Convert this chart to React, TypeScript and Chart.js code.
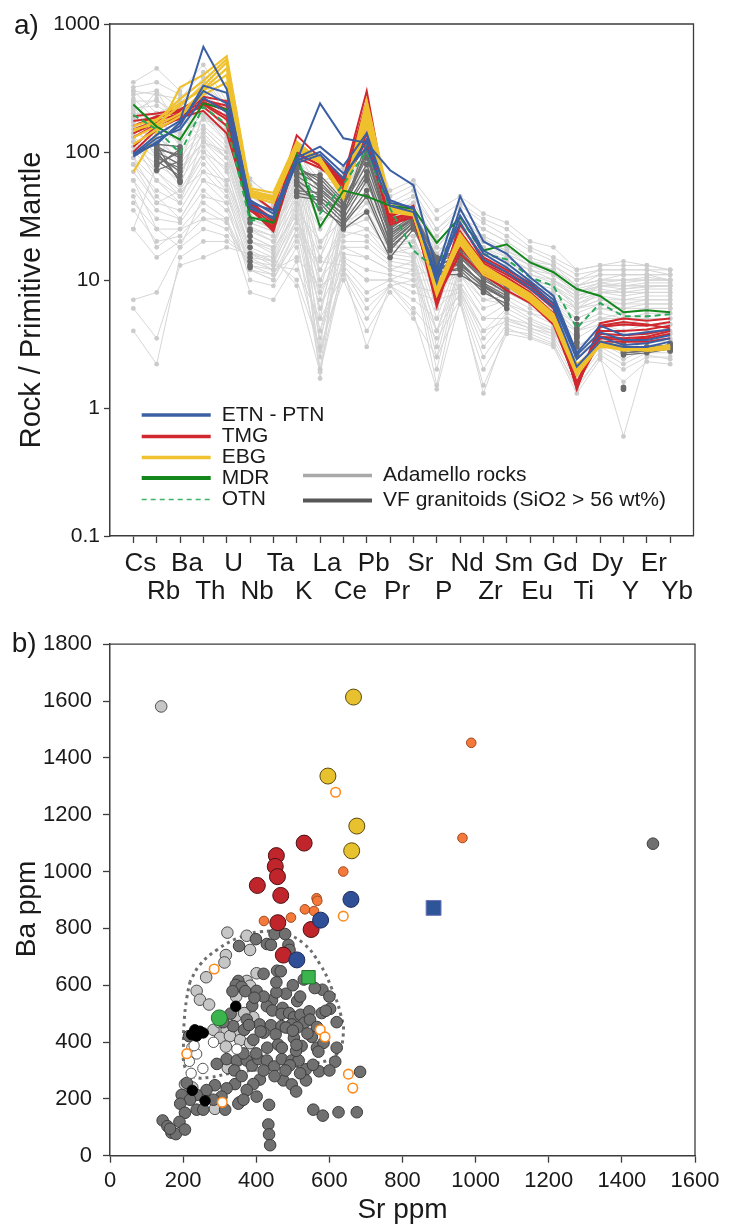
import React, { useEffect, useRef } from 'react';
import { Chart, registerables } from 'chart.js';

Chart.register(...registerables);

const FONT = "'Liberation Sans', Arial, Helvetica, sans-serif";
const INK = '#1a1a1a';
const AXIS = '#3c3c3c';

// ---------------- Panel a) : spider diagram ----------------
const elements = ['Cs', 'Rb', 'Ba', 'Th', 'U', 'Nb', 'Ta', 'K', 'La', 'Ce', 'Pb', 'Pr', 'Sr', 'P', 'Nd', 'Zr', 'Sm', 'Eu', 'Gd', 'Ti', 'Dy', 'Y', 'Er', 'Yb'];
const yTicksA = [0.1, 1, 10, 100, 1000];

const etnPtn = [
  [96, 136, 175, 665, 310, 40, 35, 85, 240, 128, 118, 72, 55, 12, 45, 20, 16, 10.5, 7.5, 2.7, 4.4, 3.7, 3.9, 4.1],
  [92, 120, 160, 330, 290, 42, 33, 90, 110, 78, 140, 40, 37, 9.5, 32, 16, 12.5, 9.2, 6.6, 2.4, 3.6, 3.1, 3.2, 3.5],
  [98, 115, 170, 300, 240, 38, 30, 82, 95, 62, 125, 42, 36, 10.5, 36, 17, 13.5, 9.8, 7, 2.6, 3.9, 3.4, 3.4, 3.7],
  [94, 128, 150, 265, 205, 36, 31, 86, 100, 68, 108, 38, 34, 11, 28, 14.5, 11.5, 8.6, 6.1, 2.1, 3.3, 3.0, 3.0, 3.3],
];
const tmg = [
  [190, 200, 215, 270, 250, 48, 35, 135, 90, 62, 300, 31, 38, 7.5, 27, 15, 12, 9.5, 6.5, 1.5, 4.6, 5.0, 4.8, 5.0],
  [175, 185, 210, 255, 230, 40, 30, 120, 85, 58, 250, 33, 35, 6.5, 24, 13.5, 11, 8.5, 6.0, 1.4, 4.3, 4.5, 4.4, 4.7],
  [150, 175, 200, 245, 210, 38, 27, 110, 82, 55, 200, 30, 34, 6.2, 22, 13, 10.5, 8.0, 5.5, 1.45, 4.0, 4.0, 4.1, 4.4],
  [130, 165, 190, 235, 180, 37, 25, 100, 78, 52, 160, 28, 32, 7, 18, 11.5, 9, 7.0, 4.8, 1.5, 3.6, 3.5, 3.6, 4.0],
  [110, 160, 195, 225, 160, 36, 24, 95, 80, 50, 140, 29, 33, 8, 21, 12, 9.5, 7.3, 5.0, 1.6, 3.5, 3.4, 3.5, 3.8],
  [100, 150, 185, 210, 140, 35, 26, 90, 75, 55, 125, 27, 31, 7.2, 16, 11, 8.3, 6.6, 4.5, 1.55, 3.3, 3.3, 3.3, 3.5],
  [160, 190, 205, 260, 215, 42, 28, 115, 88, 60, 220, 32, 36, 6.8, 28, 14, 11.5, 9, 6.2, 1.42, 4.4, 4.7, 4.5, 4.2],
  [140, 170, 180, 240, 190, 39, 29, 105, 84, 57, 180, 30, 33, 7.8, 23, 12.5, 10, 7.6, 5.2, 1.48, 3.8, 3.7, 3.8, 4.1],
];
const ebg = [
  [70, 140, 320, 400, 560, 52, 48, 120, 85, 45, 250, 40, 36, 8.5, 23, 13, 10, 7.8, 5.4, 2.0, 3.3, 3.0, 2.9, 3.0],
  [145, 175, 260, 360, 530, 50, 45, 115, 88, 48, 220, 38, 34, 8, 21, 12.5, 9.8, 7.5, 5.2, 2.1, 3.2, 2.9, 2.9, 3.0],
  [150, 165, 230, 330, 500, 48, 44, 110, 90, 47, 200, 36, 35, 8.8, 22, 12, 9.5, 7.2, 5.0, 1.9, 3.1, 3.0, 2.8, 2.9],
  [130, 160, 200, 300, 400, 46, 42, 108, 84, 46, 180, 35, 33, 7.6, 20, 11.5, 9.2, 7.0, 4.8, 2.2, 3.0, 2.9, 2.8, 2.9],
  [115, 150, 190, 280, 350, 45, 40, 104, 82, 44, 160, 34, 32, 9, 19, 11, 9, 6.8, 4.7, 1.8, 3.1, 2.8, 2.9, 3.1],
  [160, 180, 240, 310, 450, 47, 43, 112, 86, 43, 240, 37, 33, 8.2, 21.5, 12.2, 9.6, 7.3, 5.1, 2.0, 3.2, 3.0, 2.9, 3.0],
];
const mdr = [235, 158, 125, 240, 215, 31, 28, 95, 26, 50, 45, 38, 36, 19.5, 31, 17, 19, 13.7, 11.5, 8.5, 7.5, 5.6, 5.8, 5.6];
const otn = [195, 150, 98, 225, 165, 29, 31, 92, 33, 56, 102, 36, 17, 12, 31, 16, 14.5, 10.5, 9, 4.2, 6.6, 5.2, 5.2, 5.4];

const vfGranitoids = [
  [null, 100, 60, null, null, 14, null, 55, 40, 25, 34, 15, 25, 11, 11, 8.6, 6, null, null, 3.0, null, 2.7, 2.8, 2.9],
  [null, 90, 75, null, null, 18, null, 60, 45, 30, 60, 20, 28, 12, 14, 9, 7, null, null, 3.3, null, 1.45, null, 2.8],
  [null, 110, 90, null, null, 22, null, 65, 50, 35, 70, 22, 30, 13, 15, 10, 8, null, null, 3.6, null, 2.8, 2.9, 3.0],
  [null, 80, 100, null, null, 25, null, 70, 55, 38, 80, 24, 32, 14, 16, 11, 8.5, null, null, 4.0, null, 3.0, 3.0, 3.1],
  [null, 115, 110, null, null, 28, null, 75, 62, 40, 90, 25, 34, 15, 17, 12, 9, null, null, 4.5, null, 3.2, null, 3.2],
  [null, 72, 85, null, null, 16, null, 50, 48, 32, 110, 21, 29, 12.5, 13, 9.5, 7.5, null, null, 5.0, null, 2.6, 2.7, 2.9],
  [null, 95, 70, null, null, 13, null, 45, 42, 28, 50, 18, 26, 11.5, 12, 8, 6.5, null, null, 3.5, null, 1.4, null, 2.8],
  [null, 105, 95, null, null, 20, null, 80, 52, 36, 120, 23, 31, 12, 15, 10.5, 7.8, null, null, 3.8, null, 2.9, 2.9, 3.0],
  [null, 85, 65, null, null, 30, null, 68, 66, 42, 95, 26, 33, 14.5, 16.5, 11.5, 8.8, null, null, 4.2, null, 3.1, null, 3.1],
  [null, 78, 105, null, null, 15, null, 58, 36, 27, 45, 17, 27, 11, 12.5, 8.8, 7, null, null, 2.6, null, 2.7, 2.8, 2.9],
  [null, 100, 80, null, null, 12.5, null, 48, 44, 33, 65, 19, 28, 12, 13.5, 9.2, 7.2, null, null, 3.2, null, 2.8, null, 3.0],
  [null, 112, 58, null, null, 24, null, 77, 58, 38, 100, 23, 30, 13, 15.5, 10.8, 8.2, null, null, 3.7, null, 3.0, 3.0, 3.1],
];

const adamelloRocks = [
  [350, 450, 300, 480, 250, 60, 45, 110, 80, 70, 180, 45, 55, 30, 40, 30, 25, 18, 15, 12, 13, 14, 13, 12],
  [300, 280, 260, 420, 230, 55, 40, 100, 60, 65, 140, 40, 50, 25, 38, 28, 22, 17, 14, 11, 12, 12, 12, 11],
  [280, 300, 220, 350, 200, 50, 38, 95, 40, 60, 120, 38, 45, 22, 35, 25, 20, 15, 13, 10, 11, 11, 11, 10],
  [250, 250, 200, 300, 180, 45, 35, 90, 25, 55, 100, 35, 40, 20, 30, 22, 18, 14, 12, 9, 10, 10, 10, 10],
  [220, 230, 180, 260, 160, 40, 32, 85, 15, 50, 90, 33, 38, 18, 28, 20, 16, 13, 11, 8.5, 9.5, 9, 9.5, 9.5],
  [200, 200, 150, 230, 150, 35, 30, 80, 8, 45, 80, 30, 35, 16, 25, 18, 15, 12, 10, 8, 9, 8.5, 9, 9],
  [180, 180, 130, 200, 140, 32, 28, 75, 5, 42, 70, 28, 30, 14, 23, 16, 14, 11, 9.5, 7.5, 8.5, 8, 8.5, 8.5],
  [160, 150, 120, 180, 120, 30, 26, 70, 3, 40, 60, 26, 28, 12, 21, 15, 13, 10, 9, 7, 8, 7.5, 8, 8],
  [150, 130, 100, 160, 110, 28, 24, 65, 2, 38, 55, 24, 25, 10, 20, 14, 12, 9.5, 8.5, 6.5, 7.5, 7, 7.5, 7.5],
  [140, 120, 90, 150, 100, 26, 22, 60, 1.7, 35, 50, 22, 22, 8, 18, 13, 11, 9, 8, 6, 7, 6.5, 7, 7],
  [130, 100, 80, 140, 90, 24, 20, 55, 30, 32, 45, 20, 20, 6, 17, 12, 10, 8.5, 7.5, 5.5, 6.5, 6, 6.5, 6.5],
  [120, 90, 70, 120, 80, 22, 18, 50, 20, 30, 40, 18, 18, 5, 16, 11, 9.5, 8, 7, 5, 6, 5.5, 6, 6],
  [110, 80, 60, 110, 70, 20, 16, 45, 12, 28, 35, 17, 16, 4, 15, 10, 9, 7.5, 6.5, 4.5, 5.5, 5, 5.5, 5.5],
  [100, 70, 50, 100, 60, 18, 15, 40, 7, 25, 30, 16, 15, 3, 14, 9, 8.5, 7, 6, 4, 5, 4.5, 5, 5],
  [90, 60, 45, 90, 55, 17, 14, 38, 4, 22, 25, 15, 14, 2.5, 13, 8, 8, 6.5, 5.5, 3.5, 4.5, 4, 4.5, 4.5],
  [80, 50, 40, 80, 50, 16, 13, 35, 2.5, 20, 20, 14, 13, 2, 12, 7, 7.5, 6, 5, 3, 4, 3.5, 4, 4],
  [70, 40, 35, 70, 45, 15, 12, 30, 10, 18, 18, 13, 12, 1.5, 11, 6, 7, 5.5, 4.5, 2.8, 3.8, 3.2, 3.8, 3.8],
  [60, 35, 30, 60, 40, 14, 12, 28, 6, 16, 15, 12, 11, 12, 10, 5, 6.5, 5, 4.2, 2.5, 3.6, 3, 3.5, 3.5],
  [50, 30, 28, 50, 35, 13, 11, 25, 3.5, 15, 12, 11, 10, 10, 9, 4, 6, 4.8, 4, 2.2, 3.4, 2.8, 3.3, 3.3],
  [40, 25, 25, 40, 30, 12, 10, 22, 2, 14, 10, 10, 9, 8, 8.5, 3.5, 5.5, 4.5, 3.8, 2, 3.2, 2.6, 3.1, 3.1],
  [35, 20, 22, 35, 28, 12, 11, 20, 14, 13, 8, 10, 8, 7, 8, 3, 5, 4.2, 3.6, 1.8, 3, 2.4, 2.9, 2.9],
  [25, 15, 20, 30, 25, 13, 12, 15, 9, 12, 6, 9, 7, 5, 7.5, 2.5, 4.5, 4, 3.4, 1.6, 2.8, 2.2, 2.7, 2.7],
  [7, 8, 18, 25, 22, 14, 13, 12, 5, 11, 5, 9, 6, 3.5, 7, 2, 4, 3.8, 3.2, 1.4, 2.6, 2, 2.5, 2.5],
  [4, 2.2, 15, 20, 20, 15, 14, 10, 3, 10, 4, 8, 5, 2.5, 6.5, 1.5, 3.8, 3.5, 3, 1.3, 2.4, 1.6, 2.3, 2.2],
  [6, 3.5, 13, 15, 18, 16, 15, 9, 1.9, 12, 3, 9, 5.5, 1.4, 7, 1.3, 4.2, 3.6, 3.1, 1.5, 2.5, 0.6, 2.6, 2.4],
  [300, 200, 240, 380, 220, 62, 42, 100, 70, 75, 160, 50, 60, 35, 45, 33, 28, 20, 18, 12, 13, 13, 13, 12],
  [260, 180, 120, 300, 180, 40, 30, 60, 45, 50, 100, 32, 40, 20, 30, 25, 20, 15, 13, 9, 11, 11, 11, 11],
  [240, 140, 80, 250, 140, 30, 25, 50, 35, 40, 80, 25, 25, 15, 22, 20, 15, 12, 10, 7, 9, 9.5, 10, 10],
  [200, 110, 60, 200, 130, 25, 22, 45, 50, 45, 65, 22, 20, 11, 18, 16, 12, 10, 9, 6, 8, 8.5, 8.8, 9],
  [180, 300, 150, 330, 240, 50, 36, 85, 60, 55, 200, 35, 32, 18, 30, 22, 18, 14, 12, 9, 10, 10, 10.5, 10],
  [25, 80, 200, 120, 90, 35, 28, 110, 45, 60, 150, 30, 45, 25, 35, 20, 17, 14, 13, 10, 12, 12, 12, 12],
  [320, 350, 280, 200, 120, 20, 18, 90, 10, 25, 40, 20, 15, 4, 12, 10, 8, 7, 6, 4, 5, 5.5, 6, 6],
  [120, 60, 40, 130, 90, 20, 17, 35, 20, 30, 25, 18, 20, 8, 15, 10, 8, 7, 6, 4.5, 5, 5, 5, 5],
  [90, 45, 30, 60, 50, 12, 10, 25, 8, 18, 15, 12, 14, 9, 11, 7, 6.5, 5.5, 5, 4, 4.5, 4.5, 4.5, 4.5],
  [170, 90, 55, 150, 100, 25, 20, 40, 15, 35, 50, 22, 25, 12, 20, 14, 11, 9, 8, 6, 7, 7, 7, 7],
  [230, 120, 65, 190, 140, 30, 25, 55, 25, 42, 70, 26, 28, 15, 24, 18, 14, 11, 10, 7.5, 9, 9, 9, 9],
  [60, 25, 18, 45, 40, 10, 9, 18, 4, 14, 10, 10, 12, 6, 9, 5, 5, 4.5, 4, 3, 3.8, 3.8, 3.8, 3.8],
  [140, 200, 110, 240, 190, 45, 35, 70, 35, 50, 90, 30, 35, 16, 27, 20, 16, 13, 11, 8, 9.5, 10, 10, 10],
  [100, 150, 140, 180, 150, 35, 28, 90, 18, 45, 110, 28, 30, 20, 25, 17, 14, 12, 11, 8, 9, 9, 9, 9],
  [210, 260, 170, 280, 210, 42, 33, 65, 30, 48, 75, 30, 38, 14, 26, 21, 17, 13, 12, 9, 10, 11, 11, 11],
  [45, 18, 25, 30, 30, 8, 7, 14, 2.8, 12, 7, 9, 10, 4, 8, 4, 4.8, 4.2, 3.8, 2.6, 3.5, 3.4, 3.5, 3.4],
  [130, 70, 45, 100, 75, 16, 14, 30, 12, 25, 30, 16, 18, 9, 14, 9, 8, 7, 6.5, 5, 6, 6, 6, 6],
  [190, 110, 75, 120, 100, 28, 24, 60, 40, 40, 60, 24, 22, 7, 19, 15, 12, 10, 9, 6.5, 8, 8, 8, 8],
  [80, 40, 50, 70, 60, 22, 18, 32, 6, 24, 22, 15, 25, 18, 16, 8, 8.5, 7.5, 7, 6, 6.5, 6.5, 6.5, 6.5],
];

const legendA = [
  { label: 'ETN - PTN', color: '#3b5fa3', width: 3.5, dash: [] as number[], col: 0, row: 0 },
  { label: 'TMG', color: '#d0282e', width: 3.5, dash: [], col: 0, row: 1 },
  { label: 'EBG', color: '#f0c232', width: 3.5, dash: [], col: 0, row: 2 },
  { label: 'MDR', color: '#13871b', width: 4, dash: [], col: 0, row: 3 },
  { label: 'OTN', color: '#3cb46a', width: 1.6, dash: [5, 4], col: 0, row: 4 },
  { label: 'Adamello rocks', color: '#a9a9a9', width: 3.5, dash: [], col: 1, row: 3 },
  { label: 'VF granitoids (SiO2 > 56 wt%)', color: '#575757', width: 4, dash: [], col: 1, row: 4 },
];

// ---------------- Panel b) : Ba vs Sr ----------------
const adamelloSr = [140, 321, 374, 383, 317, 313, 401, 263, 374, 383, 237, 246, 271, 344, 392, 367, 283, 319, 354, 301, 328, 356, 383, 317, 350, 322, 205, 256, 354, 287, 225, 300, 345, 212];
const adamelloBa = [1581, 785, 774, 724, 706, 680, 642, 628, 615, 598, 580, 549, 532, 491, 487, 502, 443, 443, 432, 415, 421, 407, 396, 384, 335, 309, 251, 207, 188, 165, 240, 470, 560, 205];

const vfSr = [399, 429, 353, 440, 488, 491, 450, 479, 457, 467, 351, 344, 360, 335, 370, 401, 481, 512, 581, 443, 429, 444, 472, 469, 490, 503, 521, 545, 579, 602, 590, 389, 374, 409, 440, 469, 497, 532, 547, 566, 512, 481, 420, 453, 216, 337, 367, 392, 412, 460, 503, 524, 552, 566, 620, 584, 292, 319, 347, 374, 388, 406, 429, 449, 470, 497, 516, 536, 492, 509, 570, 616, 572, 684, 474, 497, 509, 536, 410, 392, 374, 401, 435, 342, 319, 287, 264, 237, 210, 196, 219, 192, 237, 205, 255, 315, 351, 365, 305, 283, 144, 157, 168, 180, 190, 205, 164, 433, 435, 438, 556, 582, 625, 675, 1485,
  420, 455, 395, 520, 560, 600, 620, 540, 500, 380, 330, 310, 340, 360, 420, 450, 480, 520, 555, 600, 430, 470, 510, 400, 365, 455, 500, 530, 420];
const vfBa = [762, 745, 738, 742, 742, 724, 780, 780, 651, 649, 615, 601, 594, 579, 579, 580, 570, 544, 584, 547, 526, 511, 520, 499, 502, 487, 496, 508, 502, 517, 510, 528, 479, 462, 459, 456, 462, 468, 479, 453, 451, 451, 433, 427, 421, 456, 443, 408, 437, 391, 414, 386, 418, 380, 380, 397, 323, 340, 335, 335, 317, 340, 335, 314, 340, 335, 335, 304, 318, 369, 366, 331, 297, 295, 265, 251, 226, 265, 268, 252, 231, 208, 179, 252, 237, 248, 231, 214, 256, 214, 197, 183, 162, 151, 162, 162, 183, 197, 208, 197, 124, 104, 81, 76, 119, 92, 95, 110, 75, 37, 162, 141, 153, 153, 1098,
  560, 575, 556, 560, 590, 560, 470, 430, 440, 460, 500, 470, 300, 280, 300, 280, 300, 290, 320, 300, 380, 380, 390, 360, 360, 610, 600, 620, 640];

const blackSr = [344, 232, 246, 223, 237, 255, 225, 260];
const blackBa = [526, 443, 438, 426, 421, 432, 230, 193];
const whiteSr = [283, 347, 224, 237, 217, 254, 222, 230];
const whiteBa = [399, 375, 381, 358, 332, 307, 290, 387];
const orangeOpenSr = [617, 638, 285, 575, 588, 210, 652, 664, 307];
const orangeOpenBa = [1279, 843, 657, 443, 418, 359, 287, 238, 188];
const orangeSr = [988, 964, 638, 565, 567, 533, 558, 421, 495];
const orangeBa = [1453, 1118, 1000, 906, 897, 867, 861, 826, 838];
const tmgSr = [531, 455, 452, 458, 403, 467, 459, 550, 474];
const tmgBa = [1100, 1056, 1018, 982, 951, 916, 820, 796, 706];
const ebgSr = [666, 596, 675, 661];
const ebgBa = [1614, 1336, 1160, 1073];
const etnSr = [659, 576, 511];
const etnBa = [902, 829, 689];
const mdrSr = [299];
const mdrBa = [485];
const greenSquareSr = [543];
const greenSquareBa = [628];
const blueSquareSr = [885];
const blueSquareBa = [872];
const envelopeSr = [219, 210, 203, 201, 205, 228, 274, 328, 410, 492, 565, 620, 638, 631, 606, 575, 529, 474, 410, 347, 292, 246, 219];
const envelopeBa = [613, 555, 474, 380, 311, 278, 276, 290, 303, 311, 325, 357, 427, 497, 590, 672, 747, 782, 788, 764, 724, 672, 613];

const pts = (xs: number[], ys: number[]) => xs.map((x, i) => ({ x, y: ys[i] }));
const series = (vals: (number | null)[]) => vals.map((v, i) => ({ x: i, y: v }));

function SpiderChart() {
  const ref = useRef<HTMLCanvasElement>(null);
  useEffect(() => {
    const line = (vals: (number | null)[], color: string, width: number, order: number, extra: any = {}) => ({
      data: series(vals),
      borderColor: color,
      borderWidth: width,
      pointRadius: 0,
      tension: 0,
      fill: false,
      spanGaps: false,
      order,
      ...extra,
    });
    const datasets: any[] = [];
    etnPtn.forEach((v) => datasets.push(line(v, '#3b5fa3', 2, 1)));
    datasets.push(line(otn, '#2aa85a', 2, 2, { borderDash: [6, 4] }));
    datasets.push(line(mdr, '#13871b', 2, 3));
    ebg.forEach((v) => datasets.push(line(v, '#efc12e', 2.2, 4)));
    tmg.forEach((v) => datasets.push(line(v, '#d0282e', 2, 5)));
    vfGranitoids.forEach((v) =>
      datasets.push(line(v, '#6e6e6e', 1.3, 8, { pointRadius: 2.8, pointBackgroundColor: '#6b6b6b', pointBorderWidth: 0 }))
    );
    adamelloRocks.forEach((v) =>
      datasets.push(line(v, '#d6d6d6', 1, 9, { pointRadius: 2.4, pointBackgroundColor: '#cbcbcb', pointBorderWidth: 0 }))
    );

    const decor = {
      id: 'spiderDecor',
      afterDraw(chart: any) {
        const { ctx, chartArea: a } = chart;
        ctx.save();
        ctx.strokeStyle = AXIS;
        ctx.lineWidth = 1.3;
        ctx.beginPath();
        ctx.moveTo(a.left, a.top);
        ctx.lineTo(a.right, a.top);
        ctx.lineTo(a.right, a.bottom);
        ctx.stroke();
        // legend
        const rowY = [415, 436.5, 457.5, 478, 499.5];
        const colX = [141.7, 303];
        ctx.font = `21px ${FONT}`;
        ctx.textBaseline = 'middle';
        ctx.textAlign = 'left';
        legendA.forEach((e) => {
          const y = e.col === 1 ? (e.row === 3 ? 475.5 : 500.5) : rowY[e.row];
          const x0 = colX[e.col];
          ctx.strokeStyle = e.color;
          ctx.lineWidth = e.width;
          ctx.setLineDash(e.dash);
          ctx.beginPath();
          ctx.moveTo(x0, y);
          ctx.lineTo(x0 + 69, y);
          ctx.stroke();
          ctx.setLineDash([]);
          ctx.fillStyle = INK;
          ctx.fillText(e.label, x0 + 80, y);
        });
        // panel label
        ctx.font = `28px ${FONT}`;
        ctx.textBaseline = 'alphabetic';
        ctx.fillText('a)', 14, 33.5);
        // y title
        ctx.translate(39.5, 300);
        ctx.rotate(-Math.PI / 2);
        ctx.textAlign = 'center';
        ctx.font = `29px ${FONT}`;
        ctx.fillText('Rock / Primitive Mantle', 0, 0);
        ctx.restore();
      },
    };

    const chart = new Chart(ref.current as HTMLCanvasElement, {
      type: 'line',
      data: { datasets },
      plugins: [decor],
      options: {
        responsive: false,
        animation: false,
        events: [],
        layout: { padding: { left: 0, top: 24, right: 39.5, bottom: 0 } },
        plugins: { legend: { display: false }, tooltip: { enabled: false } },
        scales: {
          x: {
            type: 'linear',
            min: -1,
            max: 24,
            afterBuildTicks: (s: any) => {
              s.ticks = elements.map((_, i) => ({ value: i }));
            },
            afterFit: (s: any) => {
              s.height = 84;
            },
            grid: { display: true, drawOnChartArea: false, drawTicks: true, tickLength: 7, tickColor: AXIS, tickWidth: 1.3 },
            border: { display: true, color: AXIS, width: 1.5 },
            ticks: {
              autoSkip: false,
              maxRotation: 0,
              minRotation: 0,
              padding: 7,
              labelOffset: 7,
              color: INK,
              font: { family: FONT, size: 26, lineHeight: 1.08 },
              callback: (v: any) => {
                const i = Math.round(Number(v));
                const name = elements[i] ?? '';
                return i % 2 === 0 ? [name, ''] : ['', name];
              },
            },
          },
          y: {
            type: 'logarithmic',
            min: 0.1,
            max: 1000,
            afterBuildTicks: (s: any) => {
              s.ticks = yTicksA.map((v) => ({ value: v }));
            },
            afterFit: (s: any) => {
              s.width = 110;
            },
            grid: { display: true, drawOnChartArea: false, drawTicks: true, tickLength: 6, tickColor: AXIS, tickWidth: 1.3 },
            border: { display: true, color: AXIS, width: 1.5 },
            ticks: {
              padding: 4,
              color: INK,
              font: { family: FONT, size: 21 },
              callback: (v: any) => String(v),
            },
          },
        },
      } as any,
    });
    return () => chart.destroy();
  }, []);
  return <canvas ref={ref} width={733} height={620} style={{ display: 'block' }} />;
}

function ScatterChart() {
  const ref = useRef<HTMLCanvasElement>(null);
  useEffect(() => {
    const group = (xs: number[], ys: number[], fill: string, stroke: string, radius: number, order: number, extra: any = {}) => ({
      data: pts(xs, ys),
      showLine: false,
      pointRadius: radius,
      pointBackgroundColor: fill,
      pointBorderColor: stroke,
      pointBorderWidth: 1,
      backgroundColor: fill,
      borderColor: stroke,
      order,
      ...extra,
    });
    const datasets: any[] = [
      {
        data: pts(envelopeSr, envelopeBa),
        showLine: true,
        borderColor: '#6e6e6e',
        borderWidth: 3,
        borderDash: [3, 4],
        pointRadius: 0,
        tension: 0.45,
        fill: false,
        order: 20,
      },
      group(adamelloSr, adamelloBa, '#c6c6c6', '#4d4d4d', 5.8, 12),
      group(vfSr, vfBa, '#707070', '#3c3c3c', 5.8, 11),
      group(blackSr, blackBa, '#000000', '#000000', 5.2, 10),
      group(whiteSr, whiteBa, '#ffffff', '#555555', 5.2, 10),
      group(orangeOpenSr, orangeOpenBa, '#ffffff', '#ff8a1c', 4.8, 9, { pointBorderWidth: 1.6 }),
      group(orangeSr, orangeBa, '#f4793a', '#9e4a20', 4.8, 8),
      group(tmgSr, tmgBa, '#c1252c', '#4a1013', 8, 6),
      group(ebgSr, ebgBa, '#e7c22e', '#5a4a10', 8, 6),
      group(etnSr, etnBa, '#2f4f96', '#1b2a5c', 8, 5),
      group(mdrSr, mdrBa, '#3cb44e', '#1f6e2b', 8, 5),
      group(greenSquareSr, greenSquareBa, '#3cb44e', '#1f6e2b', 9.4, 4, { pointStyle: 'rect' }),
      group(blueSquareSr, blueSquareBa, '#2f5599', '#6b74b8', 10.5, 4, { pointStyle: 'rect' }),
    ];

    const decor = {
      id: 'scatterDecor',
      afterDraw(chart: any) {
        const { ctx, chartArea: a } = chart;
        ctx.save();
        ctx.strokeStyle = AXIS;
        ctx.lineWidth = 1.3;
        ctx.beginPath();
        ctx.moveTo(a.left, a.top);
        ctx.lineTo(a.right, a.top);
        ctx.lineTo(a.right, a.bottom);
        ctx.stroke();
        ctx.fillStyle = INK;
        ctx.font = `28px ${FONT}`;
        ctx.textAlign = 'left';
        ctx.textBaseline = 'alphabetic';
        ctx.fillText('b)', 11.7, 31.7);
        ctx.translate(35, 289);
        ctx.rotate(-Math.PI / 2);
        ctx.textAlign = 'center';
        ctx.fillText('Ba ppm', 0, 0);
        ctx.restore();
      },
    };

    const chart = new Chart(ref.current as HTMLCanvasElement, {
      type: 'scatter',
      data: { datasets },
      plugins: [decor],
      options: {
        responsive: false,
        animation: false,
        events: [],
        layout: { padding: { left: 0, top: 20, right: 38, bottom: 0 } },
        plugins: { legend: { display: false }, tooltip: { enabled: false } },
        scales: {
          x: {
            type: 'linear',
            min: 0,
            max: 1600,
            afterFit: (s: any) => {
              s.height = 71.3;
            },
            grid: { display: true, drawOnChartArea: false, drawTicks: true, tickLength: 7, tickColor: AXIS, tickWidth: 1.3 },
            border: { display: true, color: AXIS, width: 1.5 },
            ticks: {
              stepSize: 200,
              autoSkip: false,
              maxRotation: 0,
              padding: 5,
              color: INK,
              font: { family: FONT, size: 22 },
              callback: (v: any) => String(v),
            },
            title: { display: true, text: 'Sr ppm', color: INK, font: { family: FONT, size: 28 }, padding: { top: 0, bottom: 0 } },
          },
          y: {
            type: 'linear',
            min: 0,
            max: 1800,
            afterFit: (s: any) => {
              s.width = 110;
            },
            grid: { display: true, drawOnChartArea: false, drawTicks: true, tickLength: 7, tickColor: AXIS, tickWidth: 1.3 },
            border: { display: true, color: AXIS, width: 1.5 },
            ticks: {
              stepSize: 200,
              padding: 11,
              color: INK,
              font: { family: FONT, size: 22 },
              callback: (v: any) => String(v),
            },
          },
        },
      } as any,
    });
    return () => chart.destroy();
  }, []);
  return <canvas ref={ref} width={733} height={607} style={{ display: 'block' }} />;
}

export default function App() {
  return (
    <div style={{ position: 'absolute', left: 0, top: 0, width: 733, height: 1227, background: '#ffffff' }}>
      <div style={{ position: 'absolute', left: 0, top: 0, width: 733, height: 620 }}>
        <SpiderChart />
      </div>
      <div style={{ position: 'absolute', left: 0, top: 620, width: 733, height: 607 }}>
        <ScatterChart />
      </div>
    </div>
  );
}
